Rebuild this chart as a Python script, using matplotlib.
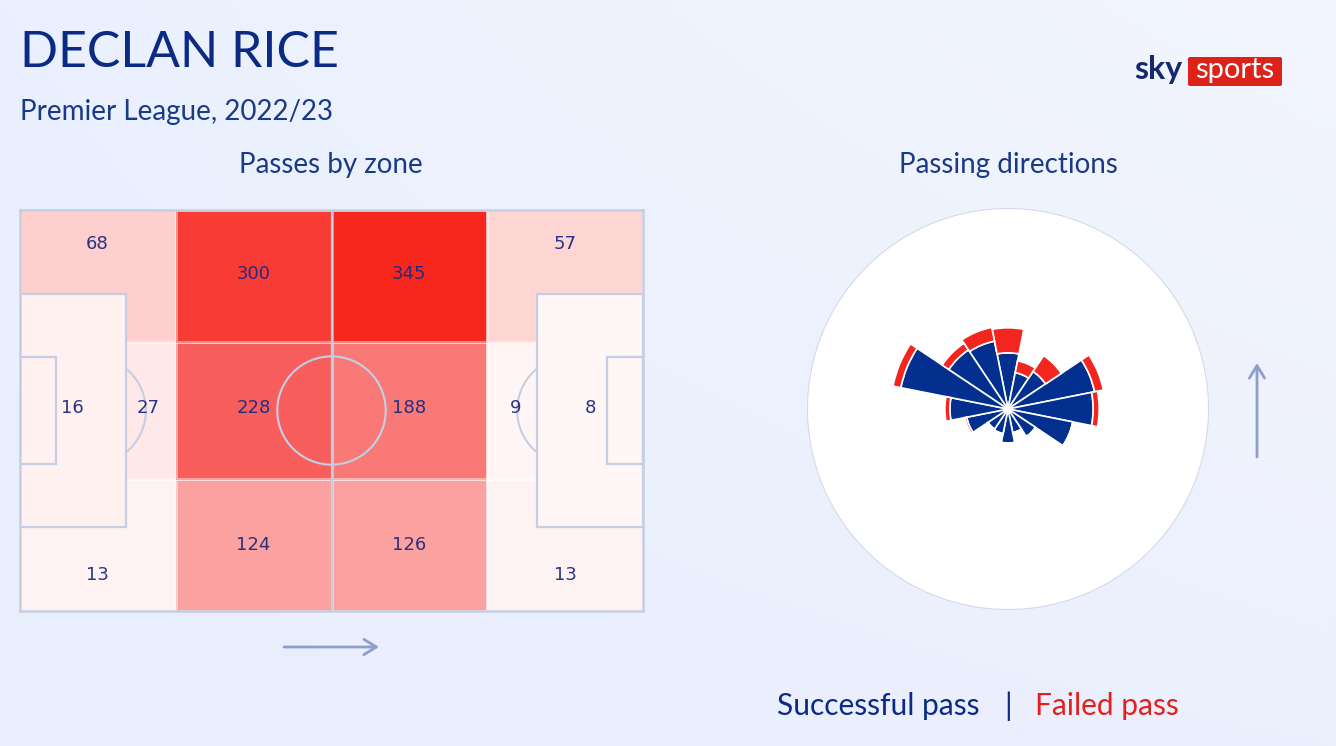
import numpy as np
import matplotlib
matplotlib.use('Agg')
import matplotlib.pyplot as plt
from matplotlib.colors import LinearSegmentedColormap, Normalize
from matplotlib.patches import Rectangle, Arc, Ellipse, FancyBboxPatch

# zone counts, bottom row first
zone_x = [0, 25, 50, 75, 100]
zone_y = [0, 33, 67, 100]
row_bottom = [13, 124, 126, 13]
row_middle = [27, 228, 188, 9]
row_top = [68, 300, 345, 57]
box_left = 16
box_right = 8

# where each count is written (opta style 0-100 pitch)
label_values = [68, 300, 345, 57, 16, 27, 228, 188, 9, 8, 13, 124, 126, 13]
label_x = [12.4, 37.5, 62.5, 87.5, 8.4, 20.5, 37.5, 62.5, 79.5, 91.5, 12.4, 37.5, 62.5, 87.5]
label_y = [91.5, 84, 84, 91.5, 50.5, 50.5, 50.5, 50.5, 50.5, 50.5, 9, 16.5, 16.5, 9]

# passing directions, clockwise from north
direction_deg = np.arange(0, 360, 22.5)
successful = [56, 37, 45, 88, 85, 66, 33, 24, 34, 25, 24, 42, 58, 109, 71, 69]
failed = [25, 12, 19, 9, 6, 0, 0, 1, 0, 1, 1, 2, 5, 8, 8, 14]

NAVY = '#0a2a84'
BLUE = '#03308f'
RED = '#f2261e'
LINE = '#c6cee4'
ARROW = '#8d9fcb'
W, H = 1336, 746

plt.rcParams['font.family'] = ['Lato', 'DejaVu Sans']

fig = plt.figure(figsize=(W / 100, H / 100), dpi=100)

# background
bg = fig.add_axes([0, 0, 1, 1])
corners = np.array([[0.925, 0.945], [0.95, 0.965]])
grad = np.array([[[234, 240, 254], [243, 246, 253]],
                 [[233, 238, 253], [236, 240, 253]]]) / 255
ys, xs = np.mgrid[0:1:60j, 0:1:100j]
img = (grad[0, 0] * ((1 - xs) * (1 - ys))[..., None] + grad[0, 1] * (xs * (1 - ys))[..., None]
       + grad[1, 0] * ((1 - xs) * ys)[..., None] + grad[1, 1] * (xs * ys)[..., None])
bg.imshow(img, extent=[0, W, H, 0], aspect='auto', interpolation='bilinear')
bg.set_xlim(0, W)
bg.set_ylim(H, 0)
bg.axis('off')

# text + logo in pixel coords
bg.text(20, 53, 'DECLAN RICE', fontsize=36, color=NAVY, va='center', ha='left')
bg.text(20, 112, 'Premier League, 2022/23', fontsize=20, color='#1a3a86', va='center', ha='left')
bg.text(331, 165, 'Passes by zone', fontsize=20, color='#1a3a86', va='center', ha='center')
bg.text(1008, 165, 'Passing directions', fontsize=20, color='#1a3a86', va='center', ha='center')
bg.text(777, 706, 'Successful pass', fontsize=21.5, color=NAVY, va='center', ha='left')
bg.text(1008, 706, '|', fontsize=21.5, color=NAVY, va='center', ha='center')
bg.text(1035, 706, 'Failed pass', fontsize=21.5, color='#e3201b', va='center', ha='left')

bg.text(1158, 70, 'sky', fontsize=23, fontweight='bold', color='#14296f', va='center', ha='center')
bg.add_patch(FancyBboxPatch((1188, 57), 94, 29, boxstyle='round,pad=0,rounding_size=2',
                            fc='#dc2219', ec='none'))
bg.text(1235, 70, 'sports', fontsize=21, color='white', va='center', ha='center')

# arrows
bg.annotate('', xy=(379, 647), xytext=(284, 647),
            arrowprops=dict(arrowstyle='->,head_length=0.9,head_width=0.55', color=ARROW, lw=2,
                            shrinkA=0, shrinkB=0))
bg.annotate('', xy=(1257, 363), xytext=(1257, 457),
            arrowprops=dict(arrowstyle='->,head_length=0.9,head_width=0.55', color=ARROW, lw=2,
                            shrinkA=0, shrinkB=0))

# pitch
cmap = LinearSegmentedColormap.from_list('zones', [(0, '#fffafa'), (68 / 345, '#fdcfcd'),
                                                   (124 / 345, '#fba2a0'), (228 / 345, '#f85f5c'),
                                                   (1, '#f8271d')])
norm = Normalize(0, 345)
ax = fig.add_axes([20 / W, (H - 611) / H, 623 / W, 401 / H])
zones = np.array([row_bottom, row_middle, row_top])
ax.pcolormesh(zone_x, zone_y, zones, cmap=cmap, norm=norm, edgecolors='#ffffff70', linewidth=0.8)

# arcs sit under the boxes
ax.add_patch(Arc((11.5, 50), 17.4, 27, color=LINE, lw=1.5))
ax.add_patch(Arc((88.5, 50), 17.4, 27, color=LINE, lw=1.5))
ax.add_patch(Rectangle((0, 21), 17, 58, fc=cmap(norm(box_left)), ec=LINE, lw=1.6))
ax.add_patch(Rectangle((83, 21), 17, 58, fc=cmap(norm(box_right)), ec=LINE, lw=1.6))
ax.add_patch(Rectangle((0, 36.6), 5.8, 26.8, fc='none', ec=LINE, lw=1.6))
ax.add_patch(Rectangle((94.2, 36.6), 5.8, 26.8, fc='none', ec=LINE, lw=1.6))
ax.add_patch(Ellipse((50, 50), 17.4, 27, fc='none', ec=LINE, lw=1.5))
ax.plot([50, 50], [0, 100], color=LINE, lw=1.6)

for v, x, y in zip(label_values, label_x, label_y):
    ax.text(x, y, str(v), family='DejaVu Sans', fontsize=13, color='#1c2a80', alpha=0.95,
            ha='center', va='center')

ax.set_xlim(0, 100)
ax.set_ylim(0, 100)
ax.set_xticks([])
ax.set_yticks([])
for s in ax.spines.values():
    s.set_color(LINE)
    s.set_linewidth(1.8)

# rose
pol = fig.add_axes([807.5 / W, (H - 609.5) / H, 401 / W, 401 / H], projection='polar')
pol.set_theta_zero_location('N')
pol.set_theta_direction(-1)
theta = np.deg2rad(direction_deg)
width = np.deg2rad(22.5)
pol.bar(theta, successful, width=width, color=BLUE, edgecolor='white', linewidth=1.2)
pol.bar(theta, failed, width=width, bottom=successful, color=RED, edgecolor='white', linewidth=1.2)
pol.set_ylim(0, 200)
pol.set_xticks([])
pol.set_yticks([])
pol.grid(False)
pol.set_facecolor('white')
pol.spines['polar'].set_color('#d5daea')
pol.spines['polar'].set_linewidth(0.8)

fig.savefig('out.png', dpi=100)
